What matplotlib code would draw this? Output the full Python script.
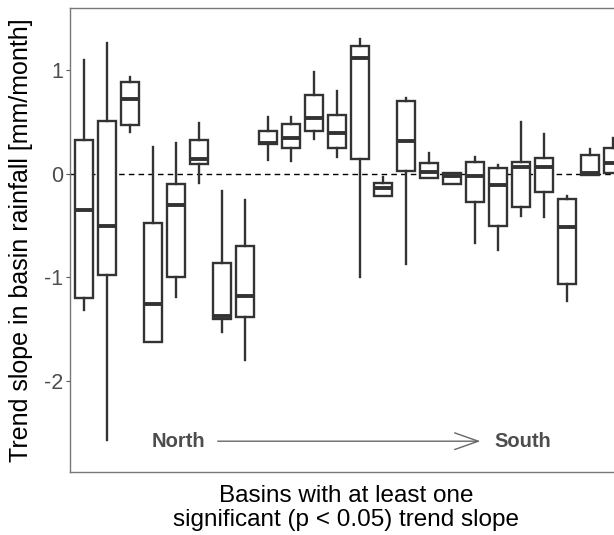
import matplotlib
matplotlib.use("Agg")
import matplotlib.pyplot as plt

plt.rcParams['font.family'] = ['Liberation Sans', 'DejaVu Sans']

# Per-basin trend slope summaries (mm/month), ordered north to south
whisker_hi = [1.10, 1.26, 0.935, 0.26, 0.30, 0.486, -0.17, -0.25, 0.544, 0.55, 0.98, 0.80,
              1.296, -0.035, 0.733, 0.197, 0.01, 0.16, 0.08, 0.50, 0.386, -0.215, 0.235, 0.34]
q3 = [0.325, 0.51, 0.887, -0.48, -0.10, 0.325, -0.86, -0.70, 0.415, 0.48, 0.76, 0.566,
      1.23, -0.093, 0.704, 0.10, 0.01, 0.116, 0.058, 0.113, 0.148, -0.247, 0.18, 0.25]
median = [-0.35, -0.50, 0.72, -1.26, -0.30, 0.14, -1.37, -1.18, 0.30, 0.34, 0.54, 0.39,
          1.12, -0.14, 0.32, 0.02, -0.02, -0.022, -0.109, 0.068, 0.068, -0.51, 0.01, 0.10]
q1 = [-1.20, -0.98, 0.467, -1.62, -1.00, 0.095, -1.40, -1.385, 0.286, 0.25, 0.415, 0.245,
      0.139, -0.215, 0.03, -0.045, -0.10, -0.276, -0.50, -0.32, -0.18, -1.066, -0.013, 0.01]
whisker_lo = [-1.31, -2.57, 0.40, -1.62, -1.19, -0.09, -1.53, -1.80, 0.13, 0.125, 0.33, 0.16,
              -1.00, -0.215, -0.87, -0.045, -0.10, -0.67, -0.74, -0.41, -0.42, -1.23, -0.013, 0.01]

stats = []
for i in range(len(median)):
    stats.append(dict(med=median[i], q1=q1[i], q3=q3[i],
                      whislo=whisker_lo[i], whishi=whisker_hi[i], fliers=[]))

dark = '#333333'
grey_txt = '#4d4d4d'

fig = plt.figure(figsize=(6.14, 5.35), dpi=100)
ax = fig.add_axes([70 / 614, 63 / 535, 544 / 614, 464 / 535])

ax.axhline(0, color='black', lw=1.0, ls=(0, (4, 3)), zorder=1)

positions = list(range(1, len(median) + 1))
ax.bxp(stats, positions=positions, widths=0.78, showcaps=False, showfliers=False,
       patch_artist=True,
       boxprops=dict(facecolor='white', edgecolor=dark, linewidth=1.7),
       whiskerprops=dict(color=dark, linewidth=1.7),
       medianprops=dict(color=dark, linewidth=2.8, solid_capstyle='butt'),
       zorder=2)

ax.set_xlim(0.4, 24.05)
ax.set_ylim(-2.877, 1.598)
ax.set_xticks([])
ax.set_yticks([1, 0, -1, -2])
ax.set_yticklabels(['1', '0', '-1', '-2'])
ax.tick_params(axis='y', length=3, width=0.8, color='#555555', labelsize=15.5,
               labelcolor=grey_txt, pad=2)

for side in ['left', 'top', 'bottom']:
    ax.spines[side].set_color('#777777')
    ax.spines[side].set_linewidth(1.0)
ax.spines['right'].set_visible(False)

# North -> South direction marker
ax.text(3.97, -2.58, 'North', fontsize=14.5, fontweight='bold', color=grey_txt,
        ha='left', va='center')
ax.text(18.83, -2.58, 'South', fontsize=14.5, fontweight='bold', color=grey_txt,
        ha='left', va='center')
ax.annotate('', xy=(18.36, -2.58), xytext=(6.7, -2.58),
            arrowprops=dict(arrowstyle='->,head_length=1.7,head_width=0.6',
                            color='#666666', lw=1.0))

fig.text(346 / 614, (535 - 508) / 535,
         'Basins with at least one\nsignificant (p < 0.05) trend slope',
         ha='center', va='center', fontsize=17.5, linespacing=1.13)
fig.text(21 / 614, (535 - 240) / 535, 'Trend slope in basin rainfall [mm/month]',
         rotation=90, ha='center', va='center', fontsize=18)

fig.savefig('out.png', dpi=100)
